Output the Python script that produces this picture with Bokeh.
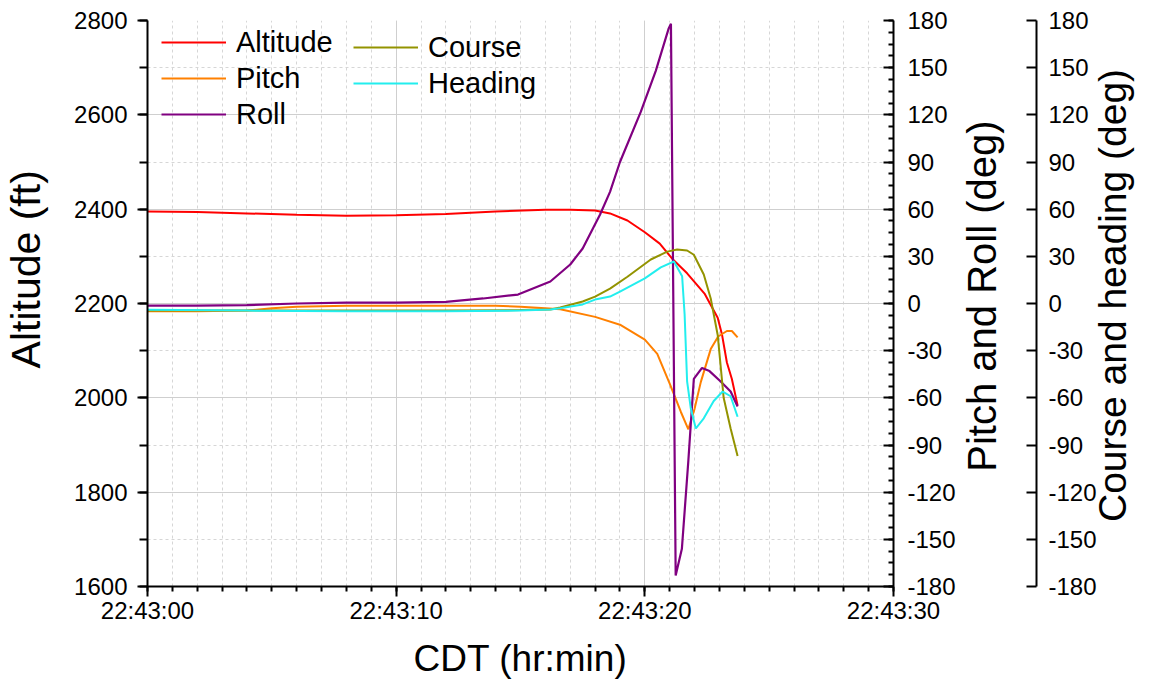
import math
from bokeh.plotting import figure
from bokeh.models import Range1d, LinearAxis, FixedTicker, Legend, LegendItem
from bokeh.embed import file_html
from bokeh.resources import INLINE

FONT = "Liberation Sans"
NBSP = "\u00a0"

# ---------------- data ----------------
x_tick_values = [0, 10, 20, 30]
x_tick_labels = ["22:43:00", "22:43:10", "22:43:20", "22:43:30"]

t_alt = [0, 2, 4, 6, 8, 10, 12, 14, 16, 17, 18, 18.6, 19.3, 20.0, 20.6, 21.1, 21.7,
         22.4, 22.93, 23.1, 23.3, 23.5, 23.73]
altitude = [2395, 2394, 2391, 2388, 2386, 2387, 2390, 2395, 2399, 2399, 2397, 2391, 2376,
            2351, 2327, 2295, 2264, 2221, 2170, 2135, 2075, 2040, 1984]

t_pitch = [0, 2, 4, 5, 6, 8, 10, 12, 14, 15, 16, 16.6, 18, 19, 20, 20.5, 21, 21.45,
           21.75, 22, 22.25, 22.65, 22.95, 23.3, 23.5, 23.73]
pitch = [-5, -5, -4.5, -3, -2, -1.5, -1.5, -1.5, -1.5, -2, -3, -3.6, -8.5, -13.5, -23,
         -32, -51, -69, -80, -67, -50, -29, -21, -17.5, -17.5, -21.5]

t_roll = [0, 2, 4, 6, 8, 10, 12, 13.5, 14.9, 16.2, 17.0, 17.5, 18.2, 18.6, 19.0, 19.84,
          20.44, 20.96, 21.05, 21.24, 21.49, 21.75, 21.97, 22.3, 22.6, 23.05, 23.45, 23.73]
roll = [-1.3, -1.3, -1.0, 0, 0.5, 0.5, 1, 3.2, 5.7, 14, 24.8, 35, 56.6, 71, 90, 122,
        148, 175, 178, -173, -156, -100, -48, -41, -43, -49.6, -56, -65.5]

t_course = [0, 4, 8, 12, 15, 16.2, 16.6, 17.5, 18, 18.6, 19.3, 20.24, 20.9, 21.3, 21.7,
            21.97, 22.37, 22.65, 22.93, 23.17, 23.45, 23.73]
course = [-4.5, -4.5, -4.5, -4.5, -4.2, -3.8, -2.5, 1.3, 4.4, 9.5, 17, 28, 33, 34.3,
          33.7, 31, 18.4, 3.2, -20, -60, -79.5, -97]

t_heading = [0, 4, 8, 12, 15, 16.2, 16.6, 17.5, 18, 18.6, 19, 20, 20.64, 21.17, 21.5,
             21.6, 21.7, 21.85, 22.05, 22.37, 22.77, 23.13, 23.45, 23.73]
heading = [-4, -4.5, -5, -5, -4.5, -3.8, -3, -0.6, 2.5, 4.4, 7.6, 16, 23, 26.7, 17.3,
           -7, -49.6, -66.8, -79.5, -73, -62, -56, -59, -72]

alt_ticks = list(range(1600, 2801, 200))
alt_minor = list(range(1600, 2801, 100))
deg_ticks = list(range(-180, 181, 30))
deg_minor = [-180 + 7.5 * i for i in range(49)]
deg_labels = {v: str(v) for v in deg_ticks}

# ---------------- figure ----------------
FRAME_L, FRAME_T, FRAME_R, FRAME_B = 146, 20, 893, 586
W, H = 1158, 685

p = figure(width=W, height=H, output_backend="svg", toolbar_location=None,
           x_range=Range1d(0, 30), y_range=Range1d(1600, 2800),
           min_border_left=FRAME_L, min_border_top=FRAME_T,
           min_border_right=W - FRAME_R, min_border_bottom=H - FRAME_B)
p.extra_y_ranges = {"pr": Range1d(-180, 180), "ch": Range1d(-180, 180)}
p.outline_line_color = None
p.background_fill_color = "white"
p.border_fill_color = "white"


def style_axis(ax, label_size="40px"):
    ax.axis_line_color = "black"
    ax.axis_line_width = 2
    ax.major_tick_line_color = "black"
    ax.major_tick_line_width = 2
    ax.minor_tick_line_color = "black"
    ax.minor_tick_line_width = 2
    ax.major_label_text_font = FONT
    ax.major_label_text_font_size = "24px"
    ax.major_label_text_color = "black"
    ax.axis_label_text_font = FONT
    ax.axis_label_text_font_size = label_size
    ax.axis_label_text_font_style = "normal"
    ax.axis_label_text_color = "black"


def title_axis(y_range_name, text, start_value, standoff, size="40px"):
    """Invisible axis whose single tick label is a title reading bottom to top,
    starting at start_value of the range."""
    ax = LinearAxis(y_range_name=y_range_name,
                    ticker=FixedTicker(ticks=[start_value], minor_ticks=[]),
                    major_label_overrides={start_value: text},
                    major_label_orientation=math.pi / 2,
                    axis_line_color=None, major_tick_line_color=None,
                    minor_tick_line_color=None, major_tick_out=0, major_tick_in=0,
                    minor_tick_out=0, minor_tick_in=0,
                    major_label_standoff=standoff,
                    major_label_text_font=FONT, major_label_text_font_size=size,
                    major_label_text_color="black")
    p.add_layout(ax, "right")
    return ax


def spacer_axis(y_range_name, size):
    ax = LinearAxis(y_range_name=y_range_name,
                    ticker=FixedTicker(ticks=[0], minor_ticks=[]),
                    major_label_overrides={0: ""},
                    axis_line_color=None, major_tick_line_color=None,
                    minor_tick_line_color=None, major_tick_out=size, major_tick_in=0,
                    minor_tick_out=0, minor_tick_in=0, major_label_standoff=0)
    p.add_layout(ax, "right")
    return ax


# x axis
xa = p.xaxis[0]
xa.ticker = FixedTicker(ticks=x_tick_values, minor_ticks=list(range(0, 31)))
xa.major_label_overrides = {v: s for v, s in zip(x_tick_values, x_tick_labels)}
style_axis(xa, "37px")
xa.axis_label = "CDT (hr:min)"
xa.major_tick_out = 10
xa.major_tick_in = 0
xa.minor_tick_out = 5
xa.minor_tick_in = 0
xa.major_label_standoff = 0
xa.axis_label_standoff = 11

# left axis
ya = p.yaxis[0]
ya.ticker = FixedTicker(ticks=alt_ticks, minor_ticks=alt_minor)
style_axis(ya, "41px")
ya.axis_label = NBSP * 6 + "Altitude (ft)"
ya.major_tick_out = 10
ya.major_tick_in = 0
ya.minor_tick_out = 8
ya.minor_tick_in = 0
ya.major_label_standoff = 10
ya.axis_label_standoff = 22

# grids
for g in (p.xgrid[0], p.ygrid[0]):
    g.grid_line_color = "#cfcfcf"
    g.grid_line_width = 1
    g.minor_grid_line_color = "#d6d6d6"
    g.minor_grid_line_width = 1
    g.minor_grid_line_dash = "3 3"

# pitch & roll axis
ax2 = LinearAxis(y_range_name="pr",
                 ticker=FixedTicker(ticks=deg_ticks, minor_ticks=deg_minor),
                 major_label_overrides=deg_labels)
style_axis(ax2)
ax2.major_tick_in = 10
ax2.major_tick_out = 0
ax2.minor_tick_in = 5
ax2.minor_tick_out = 0
ax2.major_label_standoff = 14
p.add_layout(ax2, "right")
title_axis("pr", "Pitch and Roll (deg)", -107, 24)
spacer_axis("pr", 7)

# course & heading axis
ax3 = LinearAxis(y_range_name="ch",
                 ticker=FixedTicker(ticks=deg_ticks, minor_ticks=[]),
                 major_label_overrides=deg_labels)
style_axis(ax3)
ax3.major_tick_in = 10
ax3.major_tick_out = 0
ax3.minor_tick_in = 0
ax3.minor_tick_out = 0
ax3.major_label_standoff = 12
p.add_layout(ax3, "right")
title_axis("ch", "Course and heading (deg)", -139, 13, "39px")

# ---------------- lines ----------------
r_alt = p.line(t_alt, altitude, line_color="#ff0000", line_width=2)
r_pitch = p.line(t_pitch, pitch, line_color="#ff8000", line_width=2, y_range_name="pr")
r_roll = p.line(t_roll, roll, line_color="#800080", line_width=2.2, y_range_name="pr")
r_course = p.line(t_course, course, line_color="#939300", line_width=2, y_range_name="ch")
r_head = p.line(t_heading, heading, line_color="#22eeee", line_width=2, y_range_name="ch")

legend_style = dict(border_line_color=None, background_fill_alpha=0,
                    label_text_font=FONT, label_text_font_size="29px",
                    label_text_color="black", glyph_width=65, glyph_height=36,
                    label_height=36, label_standoff=10, spacing=0, padding=0,
                    margin=0, orientation="vertical")
leg1 = Legend(items=[LegendItem(label="Altitude", renderers=[r_alt]),
                     LegendItem(label="Pitch", renderers=[r_pitch]),
                     LegendItem(label="Roll", renderers=[r_roll])],
              location=(14, 454), **legend_style)
leg2 = Legend(items=[LegendItem(label="Course", renderers=[r_course]),
                     LegendItem(label="Heading", renderers=[r_head])],
              location=(206, 485), **legend_style)
p.add_layout(leg1)
p.add_layout(leg2)

open("out.html", "w").write(file_html(p, INLINE))
